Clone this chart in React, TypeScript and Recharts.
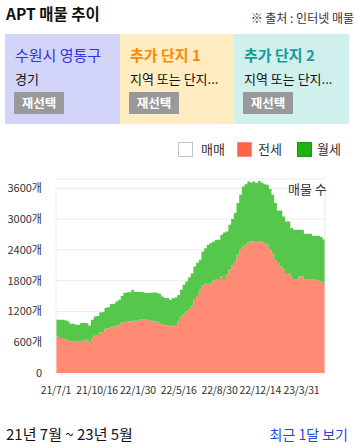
import React from "react";
import { Area, AreaChart, CartesianGrid, ReferenceLine, XAxis, YAxis } from "recharts";

// days since 21/7/1, one reading per week (last one is 23/5/31)
const days = [
    0, 7, 14, 21, 28, 35, 42, 49, 56, 63, 70, 77, 84, 91, 98, 105, 112, 119, 126, 133,
    140, 147, 154, 161, 168, 175, 182, 189, 196, 203, 210, 217, 224, 231, 238, 245, 252, 259, 266, 273,
    280, 287, 294, 301, 308, 315, 322, 329, 336, 343, 350, 357, 364, 371, 378, 385, 392, 399, 406, 413,
    420, 427, 434, 441, 448, 455, 462, 469, 476, 483, 490, 497, 504, 511, 518, 525, 532, 539, 546, 553,
    560, 567, 574, 581, 588, 595, 602, 609, 616, 623, 630, 637, 644, 651, 658, 665, 672, 679, 686, 693,
    699,
];

const jeonse = [
    713, 682, 682, 660, 629, 616, 616, 616, 625, 629, 629, 649, 597, 682, 727, 740, 791, 800, 863, 870,
    888, 900, 927, 940, 986, 986, 1000, 1010, 1019, 1019, 1019, 1040, 1052, 1052, 1035, 1019, 1005, 1000, 960, 950,
    927, 927, 908, 920, 935, 1005, 1103, 1136, 1200, 1240, 1300, 1440, 1500, 1623, 1700, 1740, 1720, 1740, 1804, 1831,
    1831, 1882, 1831, 1915, 2012, 2100, 2174, 2304, 2402, 2466, 2500, 2544, 2560, 2560, 2550, 2560, 2550, 2532, 2499, 2402,
    2340, 2200, 2143, 2080, 2012, 1948, 1948, 1870, 1831, 1831, 1882, 1882, 1817, 1817, 1817, 1817, 1817, 1800, 1784, 1760,
    1720,
];

const wolse = [
    325, 356, 356, 370, 381, 344, 344, 324, 315, 346, 351, 321, 328, 356, 373, 370, 389, 390, 402, 410,
    455, 450, 468, 480, 514, 574, 570, 565, 604, 561, 561, 540, 523, 508, 523, 546, 565, 565, 585, 543,
    534, 534, 520, 535, 535, 515, 520, 584, 584, 620, 640, 637, 650, 584, 669, 690, 780, 792, 760, 766,
    766, 812, 908, 843, 877, 900, 943, 1008, 1071, 1169, 1180, 1188, 1150, 1170, 1150, 1180, 1163, 1148, 1169, 1182,
    1133, 1112, 1025, 1088, 1039, 1005, 1005, 954, 960, 960, 909, 909, 896, 896, 896, 857, 857, 874, 865, 840,
    844,
];

const xTicks = [0, 107, 213, 319, 425, 531, 638];
const xTickLabels = ["21/7/1", "21/10/16", "22/1/30", "22/5/16", "22/8/30", "22/12/14", "23/3/31"];
const yTicks = [0, 600, 1200, 1800, 2400, 3000, 3600];

const FONT = '"Noto Sans CJK KR", "Noto Sans", sans-serif';
const JEONSE_FILL = "#ff8b74";
const WOLSE_FILL = "#55c84b";
const GRID = "#ebebeb";

const data = days.map((d, i) => ({ day: d, jeonse: jeonse[i], wolse: wolse[i] }));

const panels = [
    { title: "수원시 영통구", sub: "경기", bg: "#d3d4fa", color: "#3333e6", bold: false, left: 5, width: 115 },
    { title: "추가 단지 1", sub: "지역 또는 단지...", bg: "#ffecc0", color: "#ff8800", bold: true, left: 120, width: 114 },
    { title: "추가 단지 2", sub: "지역 또는 단지...", bg: "#d0f0ee", color: "#169c98", bold: true, left: 234, width: 115 },
];

const legendItems = [
    { label: "매매", fill: "#ffffff", border: "#c0c4cc", box: 178, text: 201 },
    { label: "전세", fill: "#ff6347", border: "#ff8f7a", box: 237, text: 258 },
    { label: "월세", fill: "#1fb011", border: "#189a0c", box: 297, text: 317 },
];

export default function App() {
    return (
        <div
            style={{
                position: "absolute",
                left: 0,
                top: 0,
                width: 358,
                height: 447,
                background: "#fff",
                fontFamily: FONT,
                overflow: "hidden",
                color: "#111",
            }}
        >
            <div style={{ position: "absolute", left: 6, top: 1, fontSize: 15.5, fontWeight: 700, lineHeight: "24px" }}>
                APT 매물 추이
            </div>
            <div style={{ position: "absolute", right: 4, top: 10, fontSize: 12, lineHeight: "16px", color: "#333" }}>
                ※ 출처 : 인터넷 매물
            </div>

            {panels.map((p) => (
                <div
                    key={p.title}
                    style={{ position: "absolute", left: p.left, top: 34, width: p.width, height: 90, background: p.bg }}
                >
                    <div
                        style={{
                            position: "absolute",
                            left: 10,
                            top: 11,
                            fontSize: 15,
                            lineHeight: "20px",
                            color: p.color,
                            fontWeight: p.bold ? 700 : 400,
                            whiteSpace: "nowrap",
                        }}
                    >
                        {p.title}
                    </div>
                    <div
                        style={{ position: "absolute", left: 10, top: 36, fontSize: 13, lineHeight: "18px", whiteSpace: "nowrap" }}
                    >
                        {p.sub}
                    </div>
                    <div
                        style={{
                            position: "absolute",
                            left: 9,
                            top: 58,
                            width: 50,
                            height: 22,
                            background: "#999",
                            color: "#fff",
                            fontSize: 12.5,
                            fontWeight: 700,
                            lineHeight: "22px",
                            textAlign: "center",
                        }}
                    >
                        재선택
                    </div>
                </div>
            ))}

            {legendItems.map((l) => (
                <React.Fragment key={l.label}>
                    <div
                        style={{
                            position: "absolute",
                            left: l.box,
                            top: 142,
                            width: 13,
                            height: 13,
                            background: l.fill,
                            border: `1px solid ${l.border}`,
                        }}
                    />
                    <div style={{ position: "absolute", left: l.text, top: 140, fontSize: 13, lineHeight: "18px", color: "#333" }}>
                        {l.label}
                    </div>
                </React.Fragment>
            ))}

            <div style={{ position: "absolute", left: 0, top: 170 }}>
                <AreaChart
                    width={358}
                    height={235}
                    data={data}
                    margin={{ top: 9, right: 33, bottom: 0, left: 0 }}
                    style={{ fontFamily: FONT }}
                >
                    <CartesianGrid stroke={GRID} vertical={false} />
                    <ReferenceLine segment={[{ x: 0, y: 0 }, { x: 0, y: 3600 }]} stroke={GRID} />
                    <ReferenceLine segment={[{ x: 699, y: 0 }, { x: 699, y: 3600 }]} stroke={GRID} />
                    <XAxis
                        dataKey="day"
                        type="number"
                        domain={[0, 699]}
                        ticks={xTicks}
                        interval={0}
                        tickFormatter={(v: number) => xTickLabels[xTicks.indexOf(v)] ?? ""}
                        tick={{ fontSize: 10.5, fill: "#333", letterSpacing: -0.2 }}
                        tickLine={false}
                        axisLine={false}
                        tickMargin={8}
                        height={32}
                    />
                    <YAxis
                        type="number"
                        domain={[0, 3780]}
                        ticks={yTicks}
                        interval={0}
                        tickFormatter={(v: number) => (v === 0 ? "0" : `${v}개`)}
                        tick={{ fontSize: 11, fill: "#333" }}
                        tickLine={false}
                        axisLine={false}
                        tickMargin={8}
                        width={56}
                    />
                    <Area
                        type="stepAfter"
                        dataKey="jeonse"
                        stackId="a"
                        stroke="none"
                        fill={JEONSE_FILL}
                        fillOpacity={1}
                        isAnimationActive={false}
                    />
                    <Area
                        type="stepAfter"
                        dataKey="wolse"
                        stackId="a"
                        stroke="none"
                        fill={WOLSE_FILL}
                        fillOpacity={1}
                        isAnimationActive={false}
                    />
                </AreaChart>
            </div>

            <div style={{ position: "absolute", left: 288, top: 181, fontSize: 13, lineHeight: "16px", color: "#333" }}>
                매물 수
            </div>

            <div style={{ position: "absolute", left: 6, top: 424, fontSize: 15, lineHeight: "20px", color: "#111" }}>
                21년 7월 ~ 23년 5월
            </div>
            <div style={{ position: "absolute", right: 10, top: 424, fontSize: 14, lineHeight: "20px", color: "#2848e0" }}>
                최근 1달 보기
            </div>
        </div>
    );
}
